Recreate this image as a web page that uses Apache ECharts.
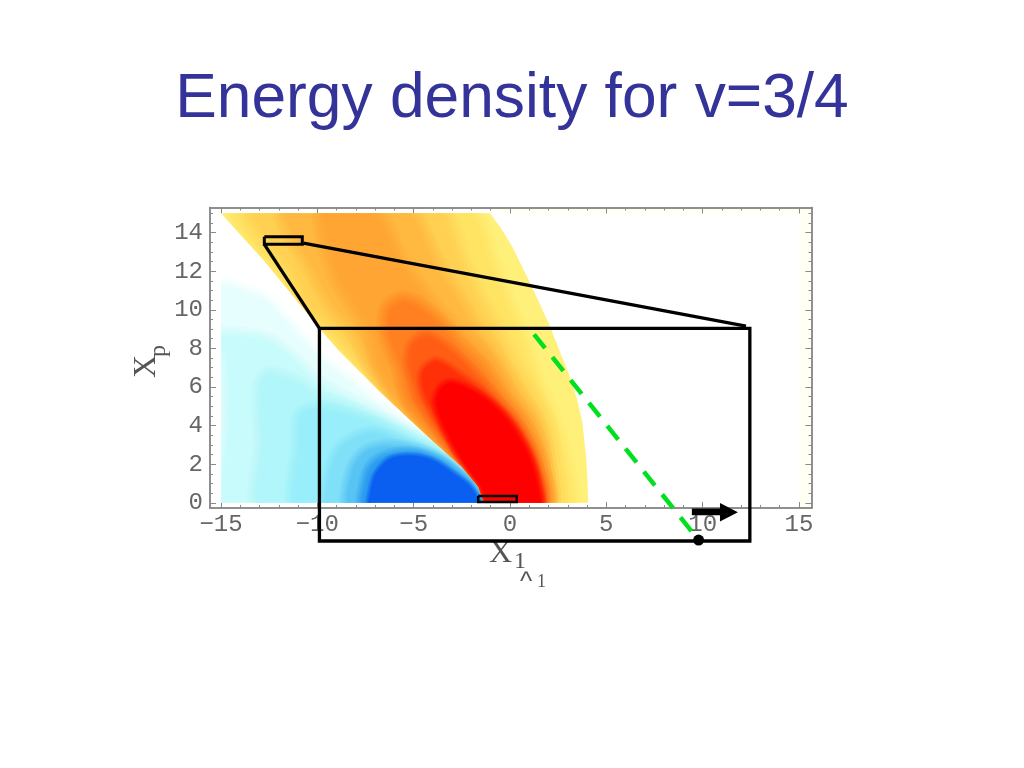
<!DOCTYPE html>
<html>
<head>
<meta charset="utf-8">
<style>html,body{margin:0;padding:0;background:#fff}#c{width:1024px;height:768px}</style>
<script src="https://cdn.jsdelivr.net/npm/echarts@6/dist/echarts.min.js"></script>
</head>
<body>
<div id="c"></div>
<script>
// Axis ticks
const xMajor = [-15, -10, -5, 0, 5, 10, 15];
const yMajor = [0, 2, 4, 6, 8, 10, 12, 14];
const xMinor = [-14, -13, -12, -11, -9, -8, -7, -6, -4, -3, -2, -1, 1, 2, 3, 4, 6, 7, 8, 9, 11, 12, 13, 14];
const yMinor = [0.5, 1, 1.5, 2.5, 3, 3.5, 4.5, 5, 5.5, 6.5, 7, 7.5, 8.5, 9, 9.5, 10.5, 11, 11.5, 12.5, 13, 13.5, 14.5, 15];

// Density levels, as iso-contours in (X1, Xp)
const tintBand = [[15, -0.22], [15.6, -0.22], [15.6, 15.25], [-1, 15.25], [-1, 15], [15, 15]];

const coolBase = [[-15,0],[-15,15],[-12.71,12.49],[-9.95,9.12],[-8.91,7.92],[-6.66,5.67],[-4.24,3.42],[-2.51,1.87],[-1.64,0.83],[-1.47,0.32],[-1.35,0]];
const cool1 = [[-15.3,-0.3],[-15.3,11],[-13,10.6],[-12.5,10.2],[-10,7.5],[-8.5,6.3],[-7,5.05],[-4,3],[-2.6,1.75],[-1.75,0.8],[-1.55,0.3],[-1.5,-0.3]];
const cool2 = [[-14.5,-0.3],[-14.6,4],[-14.7,7.5],[-15.3,8.6],[-12.5,8.3],[-10,6.2],[-8.5,5.3],[-7,4.5],[-4,2.85],[-2.7,1.75],[-1.8,0.8],[-1.58,0.3],[-1.52,-0.3]];
const cool3 = [[-12.8,-0.3],[-12.8,3],[-12.9,6],[-12.5,6.6],[-11,6.1],[-10,5.4],[-8.5,4.9],[-7,4.25],[-4,2.72],[-2.75,1.72],[-1.85,0.8],[-1.6,0.3],[-1.54,-0.3]];
const cool4 = [[-10.9,-0.3],[-10.9,3],[-10.8,4.5],[-10,4.8],[-8.5,4.5],[-7,4],[-5,3.05],[-4,2.6],[-2.8,1.7],[-1.9,0.78],[-1.62,0.3],[-1.55,-0.3]];
const cool5 = [[-9.34,-0.3],[-9.2,2],[-8.6,3],[-7.2,3.6],[-5.6,3.1],[-4.05,2.5],[-2.85,1.65],[-1.95,0.75],[-1.64,0.28],[-1.55,-0.3]];
const cool6 = [[-8.25,-0.3],[-8.2,1.6],[-7.58,2.55],[-6.5,2.9],[-5,2.75],[-3.7,2.25],[-2.7,1.55],[-2,0.8],[-1.66,0.25],[-1.55,-0.3]];
const cool7 = [[-7.5,-0.3],[-7.45,1.3],[-7.05,2.05],[-6.14,2.5],[-4.85,2.55],[-3.7,2.15],[-2.75,1.48],[-2.05,0.85],[-1.7,0.28],[-1.55,-0.3]];
const coolCore = [[-7.18,-0.3],[-7.14,1.01],[-6.83,1.7],[-6.14,2.31],[-4.93,2.42],[-3.89,2.13],[-2.85,1.44],[-2.16,0.92],[-1.73,0.32],[-1.56,-0.3]];

const warmA = [[4.06,0],[4.02,1.2],[3.95,2.4],[3.75,4.2],[3.45,5.5],[3.05,6.7],[2.6,7.8],[2.05,9.2],[1.5,10.4],[1.04,11.4],[0.6,12.3],[0.1,13.3],[-0.45,14.2],[-1.04,15],[-15,15],[-12.71,12.49],[-9.95,9.12],[-8.91,7.92],[-6.66,5.67],[-4.24,3.42],[-2.51,1.87],[-1.64,0.83],[-1.47,0.32],[-1.35,0]];
const warmB = [[2.92,-0.3],[2.75,2],[2.2,4],[1.6,5.5],[1,7],[0.3,9],[-0.2,10.25],[-1,12.3],[-2.4,15.3],[-14.2,15.3],[-12.1,12],[-10.6,10.25],[-9.5,9],[-7.6,7],[-6.15,5.33],[-3.4,2.74],[-2.3,1.7],[-1.55,0.7],[-1.3,-0.3]];
const warmC = [[2.1,-0.3],[2.05,2],[1.7,4],[1,5.5],[0.1,7],[-0.9,9],[-1.6,10.25],[-2.6,12.3],[-4,15.3],[-13.3,15.3],[-11.2,12],[-10.3,10.25],[-8.9,9],[-7.3,7],[-6,5.33],[-3.3,2.74],[-2.2,1.7],[-1.5,0.7],[-1.3,-0.3]];
const warmD = [[1.85,-0.3],[1.8,2],[1.3,4],[0.4,5.5],[-0.5,7],[-1.1,8],[-1.9,9],[-2.6,10.25],[-3.9,12.3],[-5.6,15.3],[-11.6,15.3],[-10.1,12],[-9.1,10.25],[-8,9],[-7,7],[-5.8,5.33],[-3.2,2.74],[-2.1,1.7],[-1.45,0.7],[-1.28,-0.3]];
const warmE = [[1.73,-0.3],[1.6,2],[0.95,4],[-0.1,5.5],[-0.95,7],[-2,8.2],[-3,9],[-4.1,10.25],[-5.7,12.3],[-7.3,15.3],[-9.6,15.3],[-9,12],[-8,10.25],[-7.2,9],[-6.6,7],[-5.5,5.33],[-3.1,2.74],[-2,1.7],[-1.42,0.7],[-1.26,-0.3]];
const warmF = [[1.65,-0.3],[1.42,2],[0.55,4],[-0.55,5.5],[-1.6,7],[-2.6,8],[-3.5,9],[-4.5,9.9],[-5.5,10.4],[-6.2,10],[-6.3,9],[-6,8],[-5.6,7],[-5.1,5.33],[-3,2.74],[-1.95,1.7],[-1.4,0.7],[-1.25,-0.3]];
const warmG = [[1.58,-0.3],[1.32,2],[0.38,4],[-0.9,5.5],[-2.25,7],[-3.2,7.9],[-4.3,8.6],[-5,8.2],[-5.2,7.4],[-5,6.5],[-4.6,5.33],[-2.9,2.74],[-1.9,1.7],[-1.38,0.7],[-1.24,-0.3]];
const warmH = [[1.52,-0.3],[1.22,2],[0.2,4],[-1.2,5.5],[-2.5,6.5],[-3.8,7.3],[-4.5,6.8],[-4.5,6],[-4.1,5],[-2.8,2.74],[-1.85,1.7],[-1.36,0.7],[-1.22,-0.3]];
const warmI = [[1.47,-0.3],[1.38,1.01],[1.04,2.22],[0.52,3.25],[-0.17,4.29],[-1.04,5.16],[-2.08,5.84],[-3.11,6.19],[-3.63,5.84],[-3.81,5.16],[-3.46,4.12],[-2.85,2.9],[-2.25,1.87],[-1.5,0.83],[-1.3,0.31],[-1.25,-0.3]];

const coolBands = [cool1, cool2, cool3, cool4, cool5, cool6, cool7, coolCore];
const coolColors = ['#e6fefd','#c8fbfb','#b0f6fa','#98eefa','#80e0f8','#58c4f4','#2c9cf0','#0a5ff0'];
const coolFeather = [10,10,10,10,8,8,7,4];
const warmBands = [warmB, warmC, warmD, warmE, warmF, warmG, warmH, warmI];
const warmColors = ['#ffe464','#ffd052','#ffb840','#ffa534','#ff8020','#ff5c14','#ff3008','#ff0000'];
const warmFeather = [12,14,12,12,12,8,6,6];

// Annotations, in the same data coordinates
const bigBox = [[-9.89,9.04],[12.45,9.04],[12.45,-1.98],[-9.89,-1.98],[-9.89,9.04]];
const topBox = [[-12.75,13.79],[-10.78,13.79],[-10.78,13.39],[-12.75,13.39],[-12.75,13.79]];
const lowBox = [[-1.65,0.35],[0.35,0.35],[0.35,0.04],[-1.65,0.04],[-1.65,0.35]];
const zoomLineLeft = [[-12.75,13.39],[-9.89,9.04]];
const zoomLineRight = [[-10.72,13.45],[12.25,9.15]];
const greenLine = [[1.25,8.73],[9.51,-1.58]];
const blackDot = [[9.79,-1.93]];
const arrowShape = [[9.44,-0.3],[10.9,-0.3],[10.9,-0.01],[11.83,-0.49],[10.9,-0.97],[10.9,-0.64],[9.44,-0.64]];

const GREY = '#666666';
const TICK = '#888888';
const MONO = '"Liberation Mono", monospace';
const SERIF = '"Liberation Serif", serif';
const rampAlpha = [0.2, 0.25, 0.33, 0.5];

function fmt(v){ return v < 0 ? '\u2212' + Math.abs(v) : String(v); }
function axis(range, pos, values, len, labels){
  return {
    type:'value', min:range[0], max:range[1], position:pos, offset:0, scale:false,
    axisLine:{show:true, onZero:false, lineStyle:{color:TICK, width:1.5}},
    splitLine:{show:false},
    axisTick:{show:true, inside:true, length:len, customValues:values, lineStyle:{color:TICK, width:1}},
    axisLabel:labels ? {show:true, customValues:values, formatter:fmt, color:GREY, fontFamily:MONO, fontSize:24, margin:labels} : {show:false}
  };
}
const xr = [-15.57, 15.65], yr = [-0.27, 15.3];

function flatItem(list, colors){
  return function(params, api){
    const i = params.dataIndex;
    return {type:'polygon', shape:{points:list[i].map(function(p){return api.coord(p);})},
      style:{fill:colors[i]}};
  };
}
// One contour: a feathered outline under an opaque fill, clipped to its lobe
function bandItem(list, colors, feather, lobe){
  return function(params, api){
    const i = params.dataIndex;
    const pts = list[i].map(function(p){return api.coord(p);});
    const clipPts = lobe.map(function(p){return api.coord(p);});
    const clip = function(){ return {type:'polygon', shape:{points:clipPts}}; };
    const kids = rampAlpha.map(function(a, k){
      return {type:'polygon', shape:{points:pts, smooth:0.3}, clipPath:clip(),
        style:{fill:'none', stroke:colors[i], lineWidth:2*feather[i]*(rampAlpha.length-k)/rampAlpha.length, opacity:a, lineJoin:'round'}};
    });
    kids.push({type:'polygon', shape:{points:pts, smooth:0.3}, clipPath:clip(), style:{fill:colors[i]}});
    return {type:'group', children:kids};
  };
}
function blackLine(data, w){
  return {type:'line', data:data, symbol:'none', clip:false, silent:true, z:5, animation:false,
    lineStyle:{color:'#000', width:w, join:'miter'}};
}
function indices(a){ return a.map(function(b,i){return i;}); }

const chart = echarts.init(document.getElementById('c'), null, {renderer:'canvas'});
chart.setOption({
  animation:false,
  backgroundColor:'#ffffff',
  title:{text:'Energy density for v=3/4', left:'center', top:64,
    textStyle:{color:'#333399', fontFamily:'"Liberation Sans", sans-serif', fontSize:62.3, fontWeight:'normal'}},
  grid:{left:210, right:212.5, top:207.5, height:300.5, containLabel:false},
  xAxis:[axis(xr,'bottom',xMajor,6,5), axis(xr,'top',xMajor,6,0), axis(xr,'bottom',xMinor,3,0), axis(xr,'top',xMinor,3,0)],
  yAxis:[axis(yr,'left',yMajor,6,7), axis(yr,'right',yMajor,6,0), axis(yr,'left',yMinor,3,0), axis(yr,'right',yMinor,3,0)],
  graphic:[
    {type:'text', x:489, y:538, silent:true, style:{text:'X', fill:'#555', font:'32px '+SERIF}},
    {type:'text', x:514, y:550, silent:true, style:{text:'1', fill:'#555', font:'24px '+SERIF}},
    {type:'text', x:520, y:570, silent:true, style:{text:'^', fill:'#555', font:'26px "Liberation Sans", sans-serif'}},
    {type:'text', x:537, y:573, silent:true, style:{text:'1', fill:'#555', font:'18px '+SERIF}},
    {type:'text', x:131, y:378, rotation:Math.PI/2, originX:0, originY:0, silent:true, style:{text:'X', fill:'#555', font:'32px '+SERIF, textAlign:'left', textVerticalAlign:'top'}},
    {type:'text', x:147, y:357, rotation:Math.PI/2, originX:0, originY:0, silent:true, style:{text:'p', fill:'#555', font:'24px '+SERIF, textAlign:'left', textVerticalAlign:'top'}}
  ],
  series:[
    {type:'custom', silent:true, z:-1, data:[0], coordinateSystem:'cartesian2d', renderItem:flatItem([tintBand],['#fffff4'])},
    {type:'custom', silent:true, z:1, data:[0], coordinateSystem:'cartesian2d', renderItem:flatItem([coolBase],['#ffffff'])},
    {type:'custom', silent:true, z:2, data:indices(coolBands), coordinateSystem:'cartesian2d', renderItem:bandItem(coolBands,coolColors,coolFeather,coolBase)},
    {type:'custom', silent:true, z:3, data:[0], coordinateSystem:'cartesian2d', renderItem:flatItem([warmA],['#fff07a'])},
    {type:'custom', silent:true, z:4, data:indices(warmBands), coordinateSystem:'cartesian2d', renderItem:bandItem(warmBands,warmColors,warmFeather,warmA)},
    blackLine(zoomLineLeft,3.3), blackLine(zoomLineRight,3.3),
    blackLine(bigBox,3.3), blackLine(topBox,3), blackLine(lowBox,2.5),
    {type:'line', data:greenLine, symbol:'none', clip:false, silent:true, z:6,
      lineStyle:{color:'#00e020', width:4.5, type:[17.6,11.7]}},
    {type:'custom', silent:true, z:6, data:[0], coordinateSystem:'cartesian2d', renderItem:flatItem([arrowShape],['#000000'])},
    {type:'scatter', data:blackDot, symbol:'circle', symbolSize:11, clip:false, silent:true, z:7, itemStyle:{color:'#000', opacity:1}}
  ]
});
</script>
</body>
</html>
